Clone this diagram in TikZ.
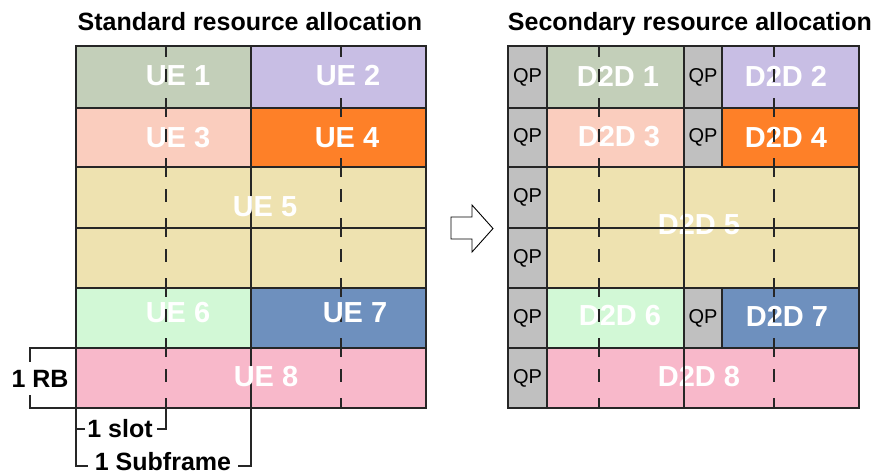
\documentclass[tikz,border=0pt]{standalone}
\usepackage{fontspec}
\setmainfont{Liberation Sans}

\definecolor{gridcol}{HTML}{262626}
\definecolor{ueA}{HTML}{C3CFB9}
\definecolor{ueB}{HTML}{C8BEE4}
\definecolor{ueC}{HTML}{FACDBE}
\definecolor{ueD}{HTML}{FE8028}
\definecolor{ueE}{HTML}{EEE2B0}
\definecolor{ueF}{HTML}{D2F8D6}
\definecolor{ueG}{HTML}{6E90BE}
\definecolor{ueH}{HTML}{F8B8CA}
\definecolor{qpgray}{HTML}{C0C0C0}

\tikzset{
  cellfill/.style={anchor=north west, inner sep=0pt, outer sep=0pt, draw=none},
  gridline/.style={draw=gridcol, line width=1.6pt},
  slotline/.style={draw=gridcol, line width=1.8pt,
    dash pattern=on 19pt off 12pt on 13pt off 16pt, dash phase=8pt},
  uelabel/.style={text=white, inner sep=0pt,
    font=\fontsize{29}{34}\selectfont\bfseries},
  qplabel/.style={text=black, font=\fontsize{20}{24}\selectfont},
  heading/.style={anchor=base, inner sep=0pt,
    font=\fontsize{25}{30}\selectfont\bfseries},
  dimlabel/.style={inner sep=0pt, font=\fontsize{25}{30}\selectfont\bfseries},
  bracket/.style={draw=gridcol, line width=1.4pt},
  shift arrow/.style={draw=black, line width=0.9pt, fill=white, line join=miter}
}

\begin{document}
\begin{tikzpicture}[x=1pt,y=-1pt]
\useasboundingbox (0,0) rectangle (874,475);

% ---------------- headings ----------------
\node[heading] (hstd) at (250,30) {Standard resource allocation};
\node[heading] (hsec) at (690,30) {Secondary resource allocation};

% ---------------- standard allocation: cells ----------------
\node[cellfill, fill=ueA, minimum width=175pt, minimum height=62pt] (ue1) at (76,46) {};
\node[cellfill, fill=ueB, minimum width=175pt, minimum height=62pt] (ue2) at (251,46) {};
\node[cellfill, fill=ueC, minimum width=175pt, minimum height=59pt] (ue3) at (76,108) {};
\node[cellfill, fill=ueD, minimum width=175pt, minimum height=59pt] (ue4) at (251,108) {};
\node[cellfill, fill=ueE, minimum width=350pt, minimum height=121pt] (ue5) at (76,167) {};
\node[cellfill, fill=ueF, minimum width=175pt, minimum height=60pt] (ue6) at (76,288) {};
\node[cellfill, fill=ueG, minimum width=175pt, minimum height=60pt] (ue7) at (251,288) {};
\node[cellfill, fill=ueH, minimum width=350pt, minimum height=60pt] (ue8) at (76,348) {};

% grid of resource blocks
\draw[gridline] (76,46) rectangle (426,408);
\draw[gridline] (251,46) -- (251,408);
\foreach \yy in {108,167,228,288,348}
  \draw[gridline] (76,\yy) -- (426,\yy);
% slot boundaries
\draw[slotline] (166,46) -- (166,408);
\draw[slotline] (341,46) -- (341,408);

% UE labels
\node[uelabel] (l1) at (178,76)  {UE 1};
\node[uelabel] (l2) at (348,76)  {UE 2};
\node[uelabel] (l3) at (178,138) {UE 3};
\node[uelabel] (l4) at (347,138) {UE 4};
\node[uelabel] (l5) at (265,207) {UE 5};
\node[uelabel] (l6) at (178,313) {UE 6};
\node[uelabel] (l7) at (355,313) {UE 7};
\node[uelabel] (l8) at (266,377) {UE 8};

% ---------------- dimension brackets ----------------
\node[dimlabel] (rb) at (40,379) {1 RB};
\draw[bracket] (76,348) -- (30,348) -- (30,362);
\draw[bracket] (30,395) -- (30,408) -- (76,408);

\node[dimlabel] (slot) at (120,429) {1 slot};
\draw[bracket] (76,408) -- (76,466) -- (88,466);
\draw[bracket] (76,429) -- (85,429);
\draw[bracket] (157,429) -- (166,429) -- (166,408);

\node[dimlabel] (subf) at (163,462) {1 Subframe};
\draw[bracket] (238,466) -- (251,466) -- (251,408);

% ---------------- transition arrow ----------------
\draw[shift arrow] (451,217) -- (472,217) -- (472,205) -- (493,228.5)
  -- (472,252) -- (472,239) -- (451,239) -- cycle;

% ---------------- secondary allocation: cells ----------------
\node[cellfill, fill=qpgray, minimum width=39pt, minimum height=62pt, qplabel] (qp1) at (508,46) {QP};
\node[cellfill, fill=ueA, minimum width=137pt, minimum height=62pt] (d1) at (547,46) {};
\node[cellfill, fill=qpgray, minimum width=38pt, minimum height=62pt, qplabel] (qp2) at (684,46) {QP};
\node[cellfill, fill=ueB, minimum width=137pt, minimum height=62pt] (d2) at (722,46) {};

\node[cellfill, fill=qpgray, minimum width=39pt, minimum height=59pt, qplabel] (qp3) at (508,108) {QP};
\node[cellfill, fill=ueC, minimum width=137pt, minimum height=59pt] (d3) at (547,108) {};
\node[cellfill, fill=qpgray, minimum width=38pt, minimum height=59pt, qplabel] (qp4) at (684,108) {QP};
\node[cellfill, fill=ueD, minimum width=137pt, minimum height=59pt] (d4) at (722,108) {};

\node[cellfill, fill=qpgray, minimum width=39pt, minimum height=61pt, qplabel] (qp5) at (508,167) {QP};
\node[cellfill, fill=qpgray, minimum width=39pt, minimum height=60pt, qplabel] (qp6) at (508,228) {QP};
\node[cellfill, fill=ueE, minimum width=312pt, minimum height=121pt] (d5) at (547,167) {};

\node[cellfill, fill=qpgray, minimum width=39pt, minimum height=60pt, qplabel] (qp7) at (508,288) {QP};
\node[cellfill, fill=ueF, minimum width=137pt, minimum height=60pt] (d6) at (547,288) {};
\node[cellfill, fill=qpgray, minimum width=38pt, minimum height=60pt, qplabel] (qp8) at (684,288) {QP};
\node[cellfill, fill=ueG, minimum width=137pt, minimum height=60pt] (d7) at (722,288) {};

\node[cellfill, fill=qpgray, minimum width=39pt, minimum height=60pt, qplabel] (qp9) at (508,348) {QP};
\node[cellfill, fill=ueH, minimum width=312pt, minimum height=60pt] (d8) at (547,348) {};

% D2D labels
\node[uelabel] (m1) at (618,76)  {D2D 1};
\node[uelabel] (m2) at (786,76)  {D2D 2};
\node[uelabel] (m3) at (619,137) {D2D 3};
\node[uelabel] (m4) at (786,137) {D2D 4};
\node[uelabel] (m5) at (699,225) {D2D 5};
\node[uelabel] (m6) at (620,316) {D2D 6};
\node[uelabel] (m7) at (787,316) {D2D 7};
\node[uelabel] (m8) at (699,377) {D2D 8};

% grid drawn over the labels
\draw[gridline] (508,46) rectangle (859,408);
\draw[gridline] (547,46) -- (547,408);
\draw[gridline] (684,46) -- (684,408);
\draw[gridline] (722,46) -- (722,167);
\draw[gridline] (722,288) -- (722,348);
\foreach \yy in {108,167,228,288,348}
  \draw[gridline] (508,\yy) -- (859,\yy);
\draw[slotline] (599,46) -- (599,408);
\draw[slotline] (774,46) -- (774,408);
\end{tikzpicture}
\end{document}
